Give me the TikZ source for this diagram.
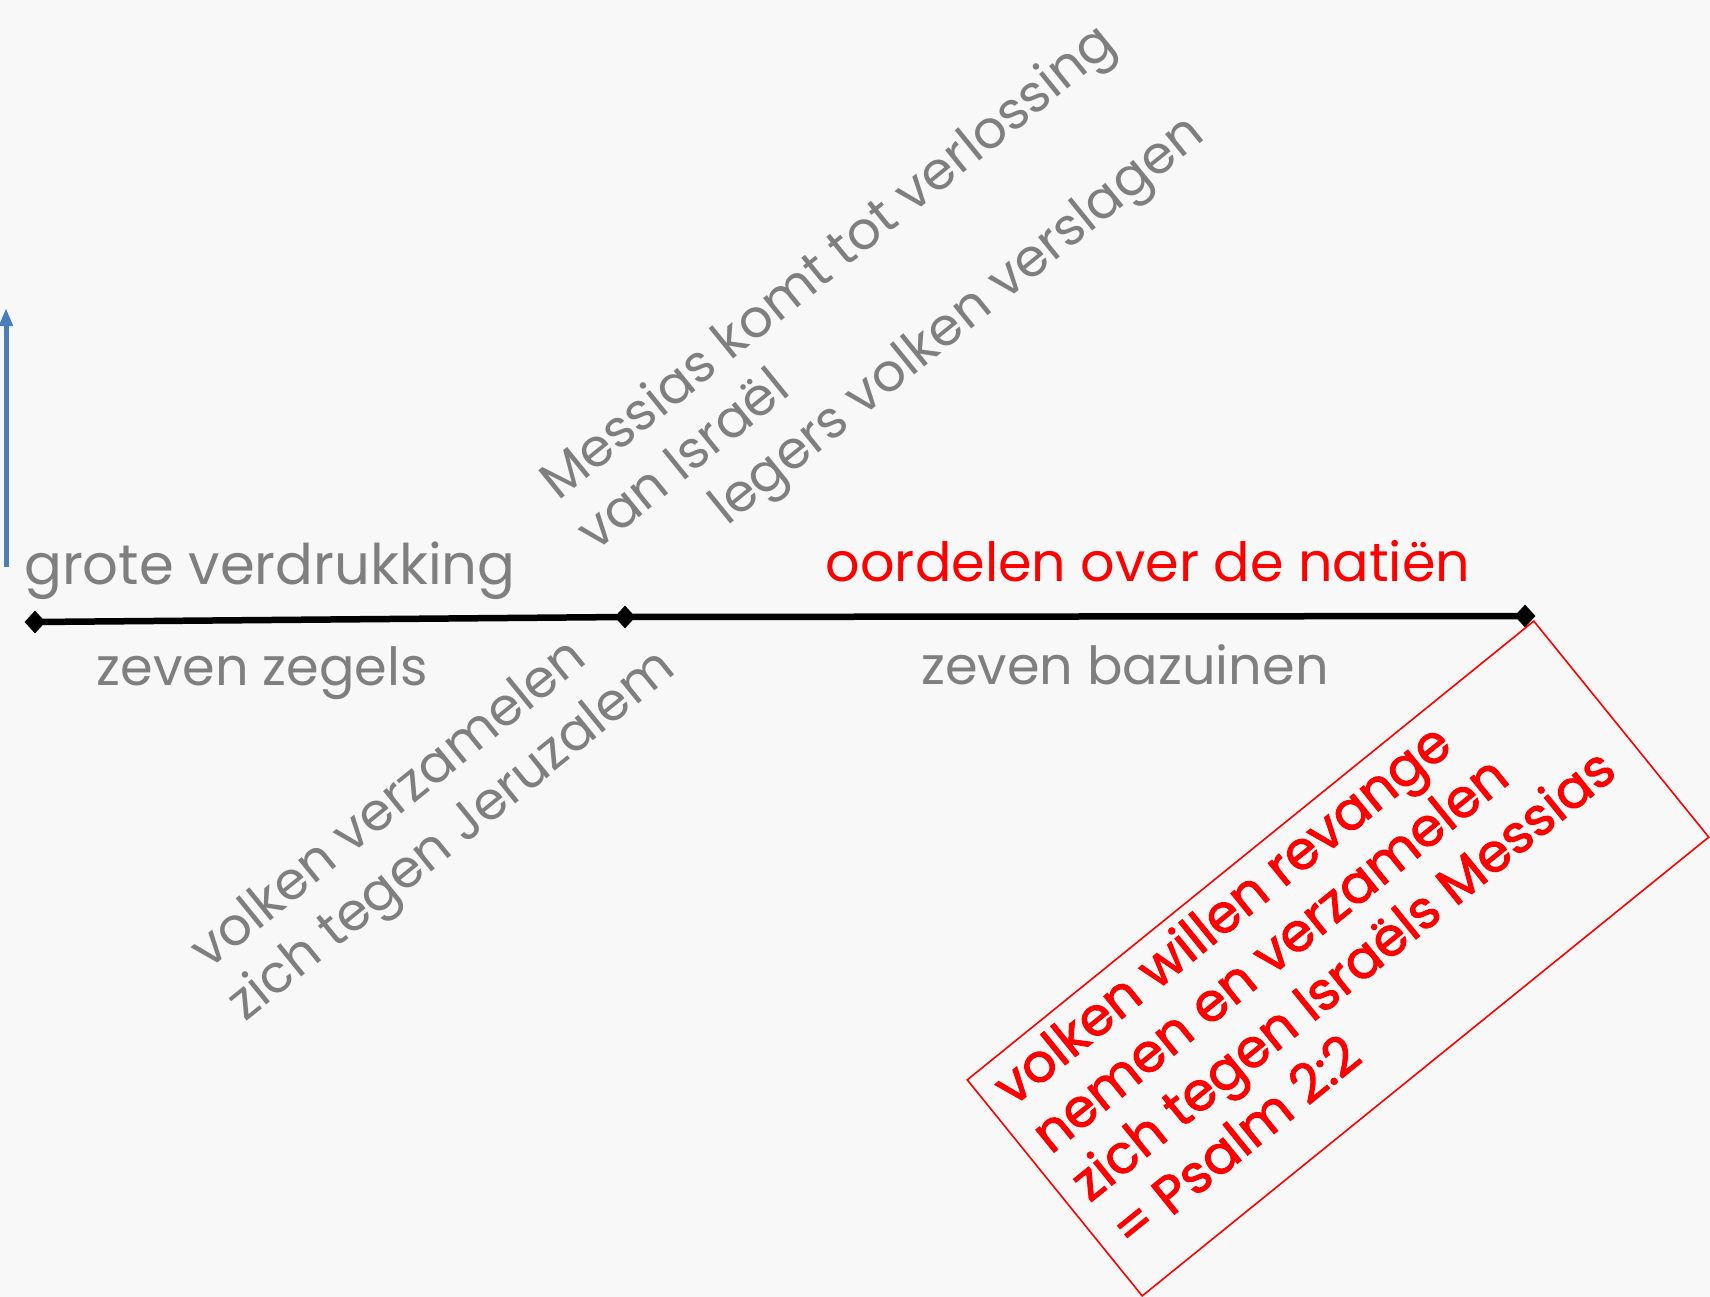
\documentclass[tikz,border=0pt]{standalone}
\usepackage{fontspec}
\setmainfont{Poppins}
\newfontfamily\boxfont{Poppins}[FakeBold=1.8]
\usetikzlibrary{shapes.geometric,arrows.meta}
\definecolor{bgcol}{RGB}{248,248,248}
\definecolor{txtgray}{RGB}{127,127,127}
\definecolor{arrowblue}{RGB}{74,126,187}
\begin{document}
\begin{tikzpicture}[x=1pt,y=-1pt,
  graytext/.style={text=txtgray, inner sep=0pt, font=\fontsize{52.5}{62}\selectfont},
  redtext/.style={text=red, inner sep=0pt, font=\fontsize{54}{64}\selectfont},
  boxtext/.style={text=red, inner sep=0pt, font=\boxfont\fontsize{53}{60}\selectfont},
  dmd/.style={diamond, fill=black, inner sep=0pt, minimum width=21pt, minimum height=23pt},
  timeline/.style={line width=6.5pt, black},
  uparrow/.style={arrowblue, line width=5pt, -{Triangle[length=18pt,width=13pt]}}
]
\fill[bgcol] (0,0) rectangle (1710,1297);
\useasboundingbox (0,0) rectangle (1710,1297);

% blue arrow
\coordinate (ab) at (6,567);
\coordinate (at) at (6,308);
\draw[uparrow] (ab) -- (at);

% timeline
\node[dmd] (d1) at (35,622) {};
\node[dmd] (d2) at (625,617) {};
\node[dmd] (d3) at (1525,616) {};
\draw[timeline] (d1.center) -- (d2.center) -- (d3.center);

% horizontal labels
\node[graytext, anchor=base west, font=\fontsize{56}{64}\selectfont] (t1) at (24,584) {grote verdrukking};
\node[graytext, anchor=base] (t2) at (262,685) {zeven zegels};
\node[graytext, anchor=base] (t3) at (1125,684) {zeven bazuinen};
\node[redtext, anchor=base] (t4) at (1148,581) {oordelen over de natiën};

% rotated labels
\node[graytext, anchor=base west, rotate=39] (m1) at (558,502) {Messias komt tot verlossing};
\node[graytext, anchor=base west, rotate=39] (m2) at (595,553) {van Israël};
\node[graytext, anchor=base west, rotate=39] (m3) at (727,527) {legers volken verslagen};
\node[graytext, anchor=base west, rotate=39] (v1) at (208,971) {volken verzamelen};
\node[graytext, anchor=base west, rotate=39] (v2) at (245,1023) {zich tegen Jeruzalem};

% red box
\begin{scope}[shift={(1338,958.5)}, rotate=39, transform shape]
  \node[draw=red, line width=1.6pt, minimum width=729pt, minimum height=278pt] (box) at (0,0) {};
  \node[boxtext, anchor=base west] (b1) at (-347,-89) {volken willen revange};
  \node[boxtext, anchor=base west] (b2) at (-347,-28) {nemen en verzamelen};
  \node[boxtext, anchor=base west] (b3) at (-347,34) {zich tegen Israëls Messias};
  \node[boxtext, anchor=base west] (b4) at (-345,96) {= Psalm 2:2};
\end{scope}
\end{tikzpicture}
\end{document}
